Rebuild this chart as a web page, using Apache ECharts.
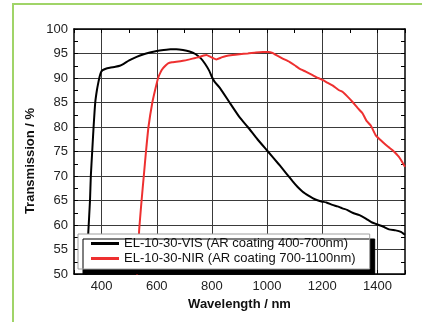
<!DOCTYPE html>
<html>
<head>
<meta charset="utf-8">
<script src="https://cdn.jsdelivr.net/npm/echarts@6/dist/echarts.min.js"></script>
<style>
html,body{margin:0;padding:0;background:#fff;}
#chart{width:422px;height:322px;}
</style>
</head>
<body>
<div id="chart"></div>
<script>
const visName = 'EL-10-30-VIS (AR coating 400-700nm)';
const nirName = 'EL-10-30-NIR (AR coating 700-1100nm)';

const visWavelength = [340,352,358,361,366,371,377,383,388,393,398,404,415,430,450,466,480,500,527,550,575,600,625,650,671,695,719,740,760,775,790,800,810,830,864,900,930,965,1000,1044,1070,1093,1110,1129,1150,1165,1180,1197,1215,1237,1255,1273,1290,1310,1335,1358,1378,1400,1420,1442,1466,1485,1500];
const visTransmission = [45,58.7,65,70,75,80,85,87.5,89,90.3,91.2,91.6,91.9,92.1,92.3,92.5,92.9,93.6,94.3,94.8,95.2,95.5,95.7,95.85,95.85,95.7,95.4,94.9,94.0,92.9,91.5,90.2,89.2,87.9,85.0,82.0,80.0,77.5,75.2,72.3,70.5,68.9,67.8,66.8,66.0,65.5,65.1,64.8,64.6,64.1,63.8,63.4,63.1,62.5,62.0,61.3,60.6,60.1,59.7,59.1,58.9,58.6,58.0];

const nirWavelength = [525,536,545,553,561,570,584,596,605,614,623,633,641,655,671,695,719,740,755,770,780,795,816,835,852,875,900,930,960,985,1005,1020,1032,1055,1081,1100,1117,1140,1165,1185,1201,1220,1237,1261,1273,1290,1310,1328,1346,1360,1376,1394,1418,1440,1454,1478,1500];
const nirTransmission = [45,58.7,65,70,75,80,85,88,90,91.2,92,92.6,93,93.2,93.3,93.5,93.8,94.1,94.3,94.6,94.7,94.3,93.8,94.2,94.5,94.7,94.85,95.0,95.2,95.3,95.3,95.1,94.7,94.0,93.3,92.6,91.9,91.3,90.6,90.0,89.6,89.0,88.5,87.5,87.2,86.3,85.1,83.9,82.8,81.3,80.3,78.3,77.0,75.9,75.3,73.9,71.9];

const xTickLabels = [400,600,800,1000,1200,1400];
const yTickLabels = [50,55,60,65,70,75,80,85,90,95,100];

const FONT = "'Liberation Sans', Arial, Helvetica, sans-serif";
const pair = (xs, ys) => xs.map((x, i) => [x, ys[i]]);

const chart = echarts.init(document.getElementById('chart'), null, {renderer: 'canvas'});

const xBase = {
  type: 'value', min: 300, max: 1500, interval: 100,
  axisLine: {show: true, onZero: false, lineStyle: {color: '#000', width: 1.5}},
  axisTick: {show: true, inside: true, length: 4, lineStyle: {color: '#000', width: 1}},
  splitLine: {show: false},
  axisLabel: {show: false}
};
const yBase = {
  type: 'value', min: 50, max: 100, interval: 2.5,
  axisLine: {show: true, onZero: false, lineStyle: {color: '#000', width: 1.5}},
  axisTick: {show: true, inside: true, length: 4, lineStyle: {color: '#000', width: 1}},
  splitLine: {show: false},
  axisLabel: {show: false}
};

chart.setOption({
  animation: false,
  backgroundColor: '#fff',
  grid: {left: 74, top: 29, right: 17, bottom: 48, containLabel: false},
  xAxis: [
    Object.assign({}, xBase, {
      position: 'bottom',
      name: 'Wavelength / nm', nameLocation: 'middle', nameGap: 24,
      nameTextStyle: {fontFamily: FONT, fontSize: 13, fontWeight: 'bold', color: '#111'},
      splitLine: {show: true, lineStyle: {color: ['rgba(0,0,0,0)', '#3a3a3a'], width: 1}},
      axisLabel: {show: true, margin: 6, fontFamily: FONT, fontSize: 13, color: '#222',
        formatter: v => (xTickLabels.indexOf(v) >= 0 ? String(v) : '')}
    }),
    Object.assign({}, xBase, {position: 'top'})
  ],
  yAxis: [
    Object.assign({}, yBase, {
      position: 'left',
      splitLine: {show: true, lineStyle: {color: ['#3a3a3a', 'rgba(0,0,0,0)'], width: 1}},
      axisLabel: {show: true, margin: 6, fontFamily: FONT, fontSize: 13, color: '#222',
        formatter: v => (yTickLabels.indexOf(v) >= 0 ? String(v) : '')}
    }),
    Object.assign({}, yBase, {position: 'right'})
  ],
  legend: {
    show: true,
    orient: 'vertical',
    left: 78, top: 234,
    padding: [3, 14, 4, 13],
    itemGap: 2,
    itemWidth: 28, itemHeight: 3,
    icon: 'rect',
    selectedMode: false,
    backgroundColor: '#fff',
    borderColor: '#a0a0a0', borderWidth: 1,
    shadowColor: '#000', shadowBlur: 0, shadowOffsetX: 5, shadowOffsetY: 5,
    textStyle: {fontFamily: FONT, fontSize: 13, color: '#111', lineHeight: 13},
    data: [visName, nirName]
  },
  graphic: [
    {type: 'rect', z: 100, silent: true,
     shape: {x: 13, y: 4, width: 440, height: 340},
     style: {fill: 'none', stroke: '#a0d468', lineWidth: 2}},
    {type: 'text', x: 30, y: 161, rotation: Math.PI / 2, silent: true,
     style: {text: 'Transmission / %', font: "bold 13px 'Liberation Sans', Arial, sans-serif",
             fill: '#111', align: 'center', verticalAlign: 'middle'}}
  ],
  series: [
    {name: visName, type: 'line', xAxisIndex: 0, yAxisIndex: 0, showSymbol: false, symbol: 'none',
     smooth: 0.15, clip: true, color: '#000', lineStyle: {color: '#000', width: 2},
     data: pair(visWavelength, visTransmission)},
    {name: nirName, type: 'line', xAxisIndex: 0, yAxisIndex: 0, showSymbol: false, symbol: 'none',
     smooth: 0.15, clip: true, color: '#ee3030', lineStyle: {color: '#ee3030', width: 2},
     data: pair(nirWavelength, nirTransmission)}
  ]
});
</script>
</body>
</html>
